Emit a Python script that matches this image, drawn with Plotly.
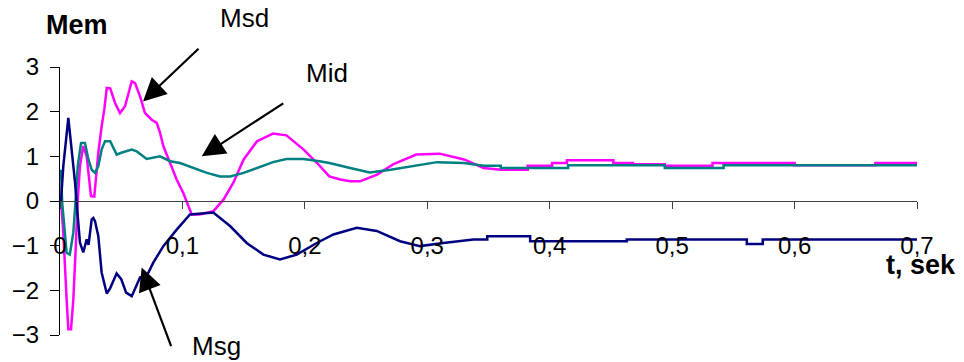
import plotly.graph_objects as go

# ---- data (t in seconds, moment values) ----
msd_t = [0.0008, 0.0027, 0.0054, 0.0068, 0.009, 0.0109, 0.0128, 0.0145, 0.0163, 0.019,
         0.0218, 0.0232, 0.0253, 0.028, 0.0292, 0.0313, 0.034, 0.0362, 0.0382, 0.041,
         0.0449, 0.049, 0.0531, 0.0586, 0.0613, 0.0654, 0.0694, 0.0749, 0.079, 0.0817,
         0.0844, 0.0899, 0.0953, 0.1007, 0.1049, 0.1076, 0.114, 0.1252, 0.1335, 0.1416,
         0.15, 0.161, 0.174, 0.185, 0.199, 0.21, 0.22, 0.229, 0.237, 0.245, 0.259, 0.272,
         0.291, 0.305, 0.31, 0.33, 0.346, 0.36, 0.382, 0.382, 0.402, 0.402, 0.414, 0.414,
         0.452, 0.452, 0.468, 0.468, 0.494, 0.494, 0.533, 0.533, 0.6, 0.6, 0.666, 0.666, 0.7]
msd_v = [0.0, -0.71, -2.2, -2.87, -2.87, -2.2, -1.08, 0.03, 0.78, 1.23,
         1.0, 0.63, 0.11, 0.1, 0.48, 1.08, 1.67, 2.05, 2.53, 2.52,
         2.2, 1.97, 2.12, 2.68, 2.64, 2.34, 1.97, 1.82, 1.75, 1.53,
         1.23, 0.85, 0.48, 0.18, -0.12, -0.3, -0.3, -0.23, 0.03, 0.41,
         0.93, 1.34, 1.51, 1.47, 1.15, 0.85, 0.55, 0.48, 0.44, 0.44, 0.59, 0.82,
         1.04, 1.06, 1.06, 0.93, 0.74, 0.70, 0.70, 0.79, 0.79, 0.85, 0.85, 0.91,
         0.91, 0.85, 0.85, 0.82, 0.82, 0.79, 0.79, 0.85, 0.85, 0.80, 0.80, 0.85, 0.85]

mid_t = [0.0008, 0.0018, 0.0035, 0.0054, 0.008, 0.0109, 0.0128, 0.0145, 0.0172, 0.0204,
         0.0232, 0.0259, 0.0286, 0.0313, 0.034, 0.0368, 0.041, 0.0463, 0.05, 0.0586,
         0.0627, 0.0708, 0.0817, 0.09, 0.098, 0.109, 0.12, 0.1307, 0.139, 0.15,
         0.161, 0.174, 0.185, 0.199, 0.212, 0.22, 0.237, 0.253, 0.27, 0.289, 0.308,
         0.33, 0.346, 0.36, 0.36, 0.415, 0.415, 0.494, 0.494, 0.542, 0.542, 0.7]
mid_v = [0.7, -0.04, -0.56, -1.16, -1.2, -0.71, 0.03, 0.78, 1.3, 1.3,
         0.93, 0.7, 0.63, 0.78, 1.15, 1.34, 1.34, 1.04, 1.08, 1.15,
         1.11, 0.94, 1.0, 0.89, 0.85, 0.74, 0.63, 0.55, 0.55, 0.63,
         0.74, 0.87, 0.94, 0.94, 0.89, 0.85, 0.74, 0.64, 0.7, 0.79, 0.87,
         0.85, 0.79, 0.79, 0.74, 0.74, 0.80, 0.80, 0.74, 0.74, 0.80, 0.80]

msg_t = [0.0008, 0.0027, 0.0068, 0.0096, 0.0123, 0.0145, 0.0163, 0.019, 0.0218, 0.0233,
         0.0259, 0.0272, 0.0286, 0.0313, 0.034, 0.0382, 0.041, 0.0463, 0.05, 0.054,
         0.0586, 0.0654, 0.0708, 0.0762, 0.0844, 0.0953, 0.1035, 0.1062, 0.1252, 0.1389,
         0.1525, 0.1661, 0.1797, 0.1934, 0.2097, 0.2233, 0.2424, 0.2587, 0.2778, 0.2941,
         0.3131, 0.3377, 0.349, 0.349, 0.384, 0.384, 0.463, 0.463, 0.561, 0.561, 0.574,
         0.574, 0.7]
msg_v = [0.0, 0.78, 1.86, 1.15, 0.41, -0.34, -0.93, -1.15, -0.86, -0.98,
         -0.41, -0.38, -0.45, -0.79, -1.6, -2.07, -1.95, -1.62, -1.75, -2.05,
         -2.13, -1.71, -1.68, -1.38, -1.01, -0.64, -0.38, -0.3, -0.26, -0.56,
         -0.94, -1.2, -1.31, -1.2, -0.94, -0.75, -0.6, -0.67, -0.9, -1.01,
         -0.94, -0.86, -0.86, -0.79, -0.79, -0.9, -0.9, -0.86, -0.86, -0.96, -0.96,
         -0.86, -0.86]

x_tickvals = [0, 0.1, 0.2, 0.3, 0.4, 0.5, 0.6, 0.7]
x_ticktext = ["0", "0,1", "0,2", "0,3", "0,4", "0,5", "0,6", "0,7"]
y_tickvals = [-3, -2, -1, 0, 1, 2, 3]

FONT = "Liberation Sans, Arial, sans-serif"
W, H = 964, 362
ML, MR, MT, MB = 60, 47, 67, 27

def px2paper(px, py):
    return (px - ML) / (W - ML - MR), (H - MB - py) / (H - MT - MB)

fig = go.Figure()
fig.add_trace(go.Scatter(x=msd_t, y=msd_v, mode="lines", name="Msd",
                         line=dict(color="#FF00FF", width=2.5)))
fig.add_trace(go.Scatter(x=mid_t, y=mid_v, mode="lines", name="Mid",
                         line=dict(color="#008080", width=2.5)))
fig.add_trace(go.Scatter(x=msg_t, y=msg_v, mode="lines", name="Msg",
                         line=dict(color="#000080", width=2.5)))

fig.update_layout(
    width=W, height=H,
    margin=dict(l=ML, r=MR, t=MT, b=MB),
    paper_bgcolor="white", plot_bgcolor="white",
    showlegend=False,
    font=dict(family=FONT, color="black", size=24),
    xaxis=dict(range=[0, 0.7], tickvals=x_tickvals, ticktext=x_ticktext,
               showgrid=False, zeroline=False, showline=True, linecolor="#404040",
               linewidth=1, ticks="outside", ticklen=7, tickcolor="#404040",
               anchor="free", position=0.5, ticklabelstandoff=16, automargin=False,
               tickfont=dict(size=24, family=FONT, color="black")),
    yaxis=dict(range=[-3, 3], tickvals=y_tickvals, automargin=False,
               showgrid=False, zeroline=False, showline=True, linecolor="black",
               linewidth=1, ticks="outside", ticklen=9, tickcolor="black",
               ticklabelstandoff=6,
               tickfont=dict(size=24, family=FONT, color="black")),
)

# text labels (pixel centres converted to paper coordinates)
texts = [
    dict(px=77, py=25, text="<b>Mem</b>", size=27),
    dict(px=921, py=265, text="<b>t, sek</b>", size=27),
    dict(px=244, py=18, text="Msd", size=26),
    dict(px=327, py=73, text="Mid", size=26),
    dict(px=216, py=346, text="Msg", size=26),
]
for t in texts:
    xp, yp = px2paper(t["px"], t["py"])
    fig.add_annotation(x=xp, y=yp, xref="paper", yref="paper", text=t["text"],
                       showarrow=False, xanchor="center", yanchor="middle",
                       font=dict(size=t["size"], family=FONT, color="black"))

# arrows (head at x,y; tail offset in pixels)
arrows = [
    dict(x=0.0678, y=2.23, ax=57, ay=-54),
    dict(x=0.1158, y=1.0, ax=83, ay=-54),
    dict(x=0.0667, y=-1.49, ax=30, ay=80),
]
for a in arrows:
    fig.add_annotation(x=a["x"], y=a["y"], xref="x", yref="y", text="",
                       showarrow=True, ax=a["ax"], ay=a["ay"],
                       arrowhead=2, arrowsize=2.1, arrowwidth=2.2, arrowcolor="black")

fig.write_html("out.html", config={"displayModeBar": False},
               post_script="document.body.style.margin='0';document.body.style.overflow='hidden';")
